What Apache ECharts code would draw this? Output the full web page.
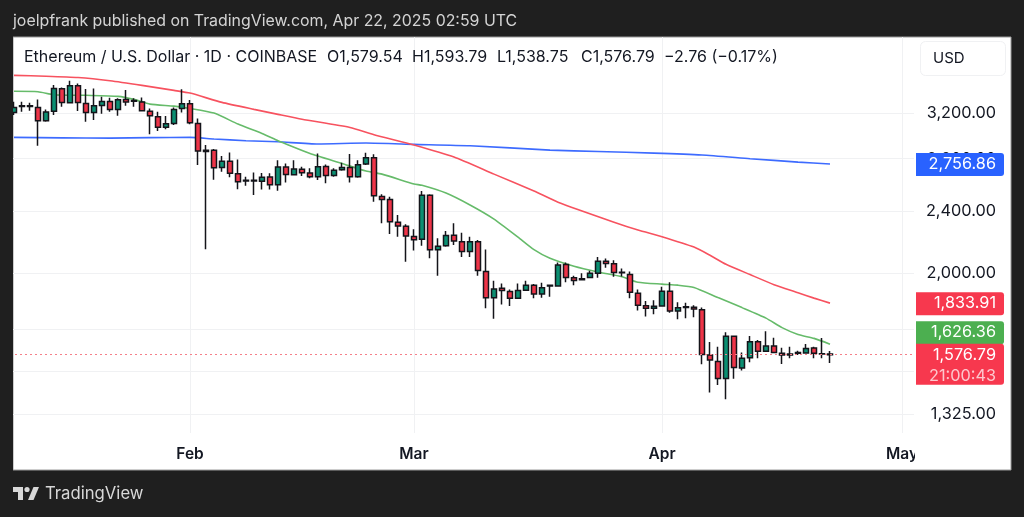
<!DOCTYPE html>
<html>
<head>
<meta charset="utf-8">
<title>ETH/USD</title>
<script src="https://cdn.jsdelivr.net/npm/echarts@6/dist/echarts.min.js"></script>
<style>
  html, body { margin: 0; padding: 0; background: #1f1f1f; }
  #chart { width: 1024px; height: 517px; }
</style>
</head>
<body>
<div id="chart"></div>
<script>
// daily candles, Jan 10 -> Apr 22 2025
const opens = [3206,3263,3269,3254,3129,3217,3436,3298,3467,3292,3206,3273,3311,3235,3331,3321,3305,3217,3166,3069,3105,3244,3288,3105,2871,2871,2729,2778,2679,2622,2628,2620,2653,2594,2732,2671,2714,2684,2656,2737,2666,2710,2729,2656,2756,2807,2507,2485,2324,2297,2230,2211,2515,2144,2170,2238,2195,2134,2195,2012,1863,1915,1898,1860,1905,1932,1884,1932,1928,2053,1975,1964,1977,2001,2074,2058,2004,1995,1888,1820,1806,1818,1899,1792,1811,1812,1799,1575,1546,1471,1664,1517,1563,1638,1593,1618,1584,1580,1584,1585,1608,1581,1579.54];
const highs = [3308,3308,3298,3331,3235,3474,3449,3518,3491,3433,3440,3357,3347,3341,3424,3341,3350,3244,3212,3172,3254,3431,3324,3150,2914,2880,2821,2851,2794,2656,2689,2684,2682,2788,2761,2788,2735,2722,2843,2753,2722,2767,2838,2788,2848,2836,2522,2505,2374,2310,2277,2547,2522,2217,2265,2317,2254,2228,2206,2146,1958,1943,1909,1943,1958,1939,1947,1933,2065,2065,1987,2001,2016,2100,2090,2080,2030,2012,1909,1845,1850,1924,1950,1839,1836,1823,1811,1636,1614,1684,1666,1587,1666,1646,1689,1657,1609,1614,1595,1627,1614,1656,1593.79];
const lows = [3181,3212,3222,2908,3120,3181,3260,3298,3219,3120,3135,3193,3212,3175,3269,3260,3222,3007,3036,3051,3090,3206,3096,2748,2148,2632,2694,2651,2561,2586,2517,2559,2559,2549,2612,2669,2661,2643,2630,2605,2656,2702,2612,2648,2748,2468,2317,2246,2228,2070,2140,2170,2091,1987,2163,2174,2100,2100,1987,1806,1752,1827,1818,1860,1901,1860,1863,1869,1924,1949,1933,1960,1975,1975,2034,1981,1983,1860,1795,1764,1775,1815,1783,1749,1755,1759,1533,1411,1443,1384,1470,1506,1542,1560,1590,1583,1534,1560,1575,1584,1561,1560,1538.75];
const closes = [3254,3269,3263,3129,3210,3440,3302,3467,3302,3206,3269,3311,3235,3327,3305,3314,3222,3175,3069,3102,3235,3288,3111,2863,2860,2726,2778,2682,2617,2628,2622,2651,2594,2732,2674,2716,2687,2656,2735,2666,2706,2729,2656,2750,2807,2512,2485,2328,2299,2232,2208,2515,2144,2166,2235,2200,2134,2195,2018,1863,1912,1903,1860,1903,1932,1884,1918,1928,2051,1977,1960,1970,2001,2074,2060,2006,2008,1893,1822,1806,1817,1899,1792,1809,1815,1802,1578,1552,1471,1664,1519,1560,1638,1593,1618,1587,1575,1575,1587,1606,1584,1579.54,1576.79];

// moving averages as [candle index, price]
const sma50 = [[0,3411],[3,3407],[5,3377],[9,3371],[13,3361],[15,3331],[17,3285],[20,3266],[22,3244],[25,3200],[28,3099],[31,3015],[33,2951],[34,2923],[37,2843],[41,2761],[44,2700],[46,2676],[50,2600],[51,2590],[54,2532],[57,2445],[60,2346],[63,2225],[65,2145],[67,2091],[70,2043],[73,2009],[76,1981],[78,1950],[81,1939],[83,1933],[85,1920],[88,1864],[91,1810],[94,1755],[96,1707],[98,1673],[100,1654],[102,1626.36]];
const sma100 = [[0,3574],[4,3565],[8,3551],[12,3518],[16,3471],[20,3420],[22,3393],[26,3302],[30,3235],[33,3188],[36,3143],[42,3068],[45,3004],[50,2914],[55,2813],[60,2676],[65,2547],[68,2465],[75,2325],[78,2272],[81,2228],[85,2161],[87,2110],[89,2055],[92,1994],[95,1936],[98,1891],[100,1861],[102,1833.91]];
const sma200 = [[0,2980],[6,2976],[12,2974],[17,2978],[22,2980],[25,2966],[29,2951],[33,2942],[38,2923],[44,2931],[50,2920],[57,2908],[67,2871],[73,2859],[80,2846],[86,2830],[92,2800],[98,2772],[102,2756.86]];

const priceTicks = [1325, 1500, 1700, 2000, 2400, 2800, 3200];
const lastPrice = 1576.79;
const countdown = '21:00:43';

// axis days, runs past the last candle up to May 3
const days = [];
for (let d = new Date(Date.UTC(2025, 0, 10)), i = 0; i < 113; i++, d.setUTCDate(d.getUTCDate() + 1)) {
  days.push(d.toISOString().slice(0, 10));
}
const monthNames = { '02': 'Feb', '03': 'Mar', '04': 'Apr', '05': 'May' };
const isMonthStart = (idx, val) => val.slice(8) === '01';

const FONT = 'Inter, "Noto Sans", sans-serif';
const fmt = v => v.toLocaleString('en-US', { minimumFractionDigits: 2, maximumFractionDigits: 2 });

// price tags on the right
const tags = [
  { value: sma200[sma200.length - 1][1], color: '#2962ff', shift: 0 },
  { value: sma100[sma100.length - 1][1], color: '#f7384e', shift: 0 },
  { value: sma50[sma50.length - 1][1], color: '#4caf50', shift: -12 },
  { value: lastPrice, color: '#f7384e', shift: 0, sub: countdown }
];

function renderTag(params, api) {
  const tag = tags[params.dataIndex];
  const y = api.coord([0, tag.value])[1] + tag.shift;
  const children = [
    { type: 'rect', shape: { x: 916, y: y - 11, width: 88, height: tag.sub ? 41 : 23, r: [0, 3, 3, 0] }, style: { fill: tag.color } },
    { type: 'text', style: { x: 996, y: y, text: fmt(tag.value), align: 'right', verticalAlign: 'middle', fill: '#fff', font: '400 16.3px ' + FONT } }
  ];
  if (tag.sub) {
    children.push({ type: 'text', style: { x: 996, y: y + 21, text: tag.sub, align: 'right', verticalAlign: 'middle', fill: 'rgba(255,255,255,0.72)', font: '400 16.3px ' + FONT } });
  }
  return { type: 'group', children: children };
}

const lineStyleOf = color => ({ color: color, width: 1.6 });
const headText = (text, x) => ({ type: 'text', z: 21, x: x, y: 57, style: { text: text, fill: '#131722', font: '400 16px ' + FONT, verticalAlign: 'middle' } });

const chart = echarts.init(document.getElementById('chart'));
chart.setOption({
  animation: false,
  backgroundColor: '#1f1f1f',
  grid: { left: 10, top: 37, width: 904, height: 396, containLabel: false },
  xAxis: {
    type: 'category',
    data: days,
    axisLine: { show: false },
    axisTick: { show: false },
    axisLabel: {
      interval: isMonthStart,
      formatter: v => monthNames[v.slice(5, 7)],
      color: '#131722',
      fontFamily: FONT,
      fontWeight: 600,
      fontSize: 15.5,
      margin: 13,
      hideOverlap: false
    },
    splitLine: { show: true, interval: isMonthStart, alignWithLabel: true, lineStyle: { color: '#f0f1f3', width: 1 } }
  },
  yAxis: {
    type: 'log',
    position: 'right',
    min: 1253.6,
    max: 3999,
    axisLine: { show: false },
    axisTick: { show: false, customValues: priceTicks },
    axisLabel: {
      customValues: priceTicks,
      formatter: fmt,
      align: 'right',
      margin: 82,
      color: '#131722',
      fontFamily: FONT,
      fontSize: 16.3
    },
    splitLine: { show: true, lineStyle: { color: '#f0f1f3', width: 1 } }
  },
  series: [
    { name: 'SMA 200', type: 'line', data: sma200, showSymbol: false, smooth: 0.2, lineStyle: lineStyleOf('#3d6bff'), z: 3 },
    { name: 'SMA 100', type: 'line', data: sma100, showSymbol: false, smooth: 0.2, lineStyle: lineStyleOf('#f7525f'), z: 3 },
    { name: 'SMA 50', type: 'line', data: sma50, showSymbol: false, smooth: 0.2, lineStyle: lineStyleOf('#66bb6a'), z: 3 },
    {
      name: 'ETHUSD',
      type: 'candlestick',
      barWidth: 6,
      z: 4,
      data: opens.map((o, i) => [o, closes[i], lows[i], highs[i]]),
      itemStyle: {
        color: '#0b8f72',
        color0: '#ee3448',
        borderColor: '#14141a',
        borderColor0: '#14141a',
        borderWidth: 1.5
      },
      markLine: {
        silent: true,
        symbol: 'none',
        label: { show: false },
        lineStyle: { color: '#f57f89', type: [2, 3], width: 1.2 },
        data: [{ yAxis: lastPrice }]
      }
    },
    {
      type: 'custom',
      data: tags.map(t => [0, t.value]),
      renderItem: renderTag,
      clip: false,
      silent: true,
      z: 30
    }
  ],
  graphic: [
    // white panel behind the plot
    { type: 'rect', z: -1, shape: { x: 13, y: 37, width: 998, height: 433 }, style: { fill: '#fff', stroke: '#9a9a9a', lineWidth: 1 } },
    // hides what spills left of the panel and the clipped May label
    { type: 'rect', z: 20, shape: { x: 0, y: 37, width: 13, height: 433 }, style: { fill: '#1f1f1f' } },
    { type: 'rect', z: 20, shape: { x: 915, y: 434, width: 95, height: 35 }, style: { fill: '#fff' } },
    { type: 'text', z: 21, x: 13, y: 21, style: { text: 'joelpfrank published on TradingView.com, Apr 22, 2025 02:59 UTC', fill: '#d4d4d4', font: '400 15.9px ' + FONT, verticalAlign: 'middle' } },
    headText('Ethereum / U.S. Dollar · 1D · COINBASE', 24),
    headText('O1,579.54', 327),
    headText('H1,593.79', 412),
    headText('L1,538.75', 497),
    headText('C1,576.79', 581),
    headText('\u22122.76 (\u22120.17%)', 664),
    // USD button
    { type: 'rect', z: 21, shape: { x: 920.5, y: 41.5, width: 85, height: 34, r: 5 }, style: { fill: '#fff', stroke: '#f0f1f3', lineWidth: 1 } },
    { type: 'text', z: 22, x: 933, y: 58, style: { text: 'USD', fill: '#131722', font: '400 15px ' + FONT, verticalAlign: 'middle' } },
    // footer logo
    { type: 'polygon', z: 21, shape: { points: [[13, 487], [23, 487], [23, 500], [18, 500], [18, 492], [13, 492]] }, style: { fill: '#d8d8d8' } },
    { type: 'circle', z: 21, shape: { cx: 27, cy: 489.5, r: 2.6 }, style: { fill: '#d8d8d8' } },
    { type: 'polygon', z: 21, shape: { points: [[33.5, 487], [39, 487], [33.5, 500], [28, 500]] }, style: { fill: '#d8d8d8' } },
    { type: 'text', z: 21, x: 45, y: 494, style: { text: 'TradingView', fill: '#d8d8d8', font: '400 16.7px ' + FONT, verticalAlign: 'middle' } }
  ]
});
</script>
</body>
</html>
